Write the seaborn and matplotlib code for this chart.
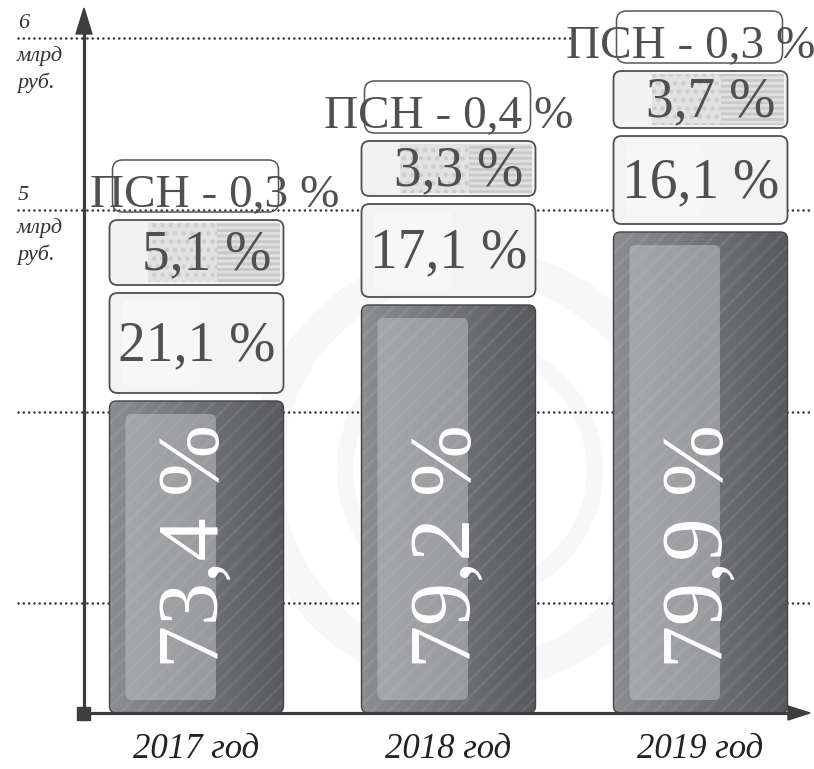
import numpy as np
import matplotlib
matplotlib.use("Agg")
import matplotlib.pyplot as plt
import seaborn as sns
from matplotlib.patches import FancyBboxPatch, Polygon, Rectangle, Ellipse
from matplotlib.colors import LinearSegmentedColormap

# ---------------- data ----------------
years = ["2017 год", "2018 год", "2019 год"]
main_share = [73.4, 79.2, 79.9]
mid_share = [21.1, 17.1, 16.1]
small_share = [5.1, 3.3, 3.7]
psn_share = [0.3, 0.4, 0.3]
# visual heights (chart units above the baseline)
bar_height = [312, 408, 481]
mid_height = [100, 93, 88]
small_height = [65, 55, 57]
grid_levels = [675, 503, 301, 110]
grid_labels = {675: "6", 503: "5"}
unit_lines = ["млрд", "руб."]


def fmt(v):
    return f"{v:.1f}".replace(".", ",") + " %"


sns.set_theme(style="white")
plt.rcParams["font.family"] = ["Liberation Serif", "DejaVu Serif"]
plt.rcParams["hatch.linewidth"] = 2.0

W, H = 814, 769
fig = plt.figure(figsize=(W / 100, H / 100), dpi=100)
ax = fig.add_axes([0, 0, 1, 1])
XU = 252.0   # pixels per category step
X0 = 196.5   # pixel of first category centre
BASE = 713   # pixel row of baseline


def px(x):
    return (x - X0) / XU


def setlims():
    ax.set_xlim(-X0 / XU, (W - X0) / XU)
    ax.set_ylim(BASE - H, BASE)


def rbox(x, y, w, h, r, **kw):
    return FancyBboxPatch((x, y), w, h,
                          boxstyle=f"round,pad=0,rounding_size={r / XU}",
                          mutation_aspect=XU, **kw)


# ---------------- main bars via seaborn ----------------
sns.barplot(x=years, y=bar_height, ax=ax, width=174 / XU, color="#6a6a6d",
            saturation=1, zorder=3)
bars = [(p.get_x(), p.get_width(), p.get_height()) for p in ax.patches]
for p in list(ax.patches):
    p.remove()

# very faint watermark (coin-like rings)
for (cx, cy, r, lw) in [(470, 470, 205, 24), (470, 470, 125, 12),
                        (470, 470, 60, 8)]:
    ax.add_patch(Ellipse((px(cx), BASE - cy), 2 * r / XU, 2 * r,
                         fill=False, edgecolor="#f7f7f7", lw=lw, zorder=0))

# dotted guides
grid_end = {675: 572}
for lvl in grid_levels:
    ax.plot([px(18), px(grid_end.get(lvl, 812))], [lvl, lvl],
            ls=(0, (0.01, 2.0)), lw=1.9, color="#3a3a3a",
            dash_capstyle="round", zorder=1)
for lvl, lab in grid_labels.items():
    ax.text(px(18), lvl + 5, lab, fontsize=16, style="italic",
            color="#333333", ha="left", va="bottom", zorder=2)
    for k, u in enumerate(unit_lines):
        ax.text(px(17), lvl - 18 - 27 * k, u, fontsize=16, style="italic",
                color="#333333", ha="left", va="center", zorder=2)

cmap = LinearSegmentedColormap.from_list("g", ["#8c8d90", "#737477", "#58595d"])
grad = np.linspace(0, 1, 256).reshape(1, -1)

for i, (x, w, h) in enumerate(bars):
    # main bar
    body = rbox(x, 0, w, h, 7, facecolor="none", edgecolor="#444446",
                lw=1.0, zorder=4)
    im = ax.imshow(grad, extent=[x, x + w, 0, h], cmap=cmap, aspect="auto",
                   zorder=3, interpolation="bilinear")
    clip = rbox(x, 0, w, h, 7, facecolor="none", edgecolor="none")
    ax.add_patch(clip)
    im.set_clip_path(clip)
    hatch = rbox(x, 0, w, h, 7, facecolor="none",
                 edgecolor=(1, 1, 1, 0.08), lw=0, hatch="//", zorder=3.2)
    ax.add_patch(hatch)
    ax.add_patch(body)
    inner = rbox(x + 16 / XU, 13, 0.52 * w, h - 26, 6,
                 facecolor="#c4c5c7", alpha=0.5, edgecolor="none", zorder=3.5)
    ax.add_patch(inner)
    ax.text(x + w / 2, 45, fmt(main_share[i]), rotation=90, ha="center",
            va="bottom", color="white", fontsize=62, zorder=6)

    # mid box
    b0 = h + 8
    ax.add_patch(rbox(x, b0, w, mid_height[i], 8, facecolor="#f3f3f3",
                      edgecolor="#4f4f4f", lw=1.3, zorder=4))
    ax.add_patch(rbox(x + 12 / XU, b0 + 8, 0.45 * w, mid_height[i] - 16, 6,
                      facecolor="#fafafa", alpha=0.6, edgecolor="none",
                      zorder=4.1))
    ax.text(x + w / 2, b0 + mid_height[i] / 2 - 3, fmt(mid_share[i]),
            ha="center", va="center", fontsize=40, color="#505050", zorder=6)

    # small box
    s0 = b0 + mid_height[i] + 8
    sh = small_height[i]
    ax.add_patch(rbox(x, s0, w, sh, 8, facecolor="#f2f2f2",
                      edgecolor="none", zorder=4))
    ax.add_patch(Rectangle((x + 0.22 * w, s0 + 3), 0.4 * w, sh - 6,
                           facecolor="#e2e2e2", edgecolor="#cdcdcd", lw=0,
                           hatch="..", zorder=4.1))
    ax.add_patch(Rectangle((x + 0.62 * w, s0 + 3), 0.36 * w, sh - 6,
                           facecolor="#e0e0e0", edgecolor="#c9c9c9", lw=0,
                           hatch="---", zorder=4.1))
    ax.add_patch(rbox(x, s0, w, sh, 8, facecolor="none",
                      edgecolor="#4f4f4f", lw=1.3, zorder=4.2))
    ax.text(x + w / 2 + 10 / XU, s0 + sh / 2 - 3, fmt(small_share[i]),
            ha="center", va="center", fontsize=40, color="#505050", zorder=6)

    # ПСН label with bracket
    p0 = s0 + sh + 8
    psn_dx = [18, 0, -10][i]
    ax.add_patch(rbox(x + 3 / XU, p0, w - 8 / XU, 52, 10, facecolor="none",
                      edgecolor="#555555", lw=1.1, zorder=4))
    ax.text(x + w / 2 + psn_dx / XU, p0 + 5, f"ПСН - {fmt(psn_share[i])}",
            ha="center", va="baseline", fontsize=34, color="#505050",
            zorder=6)

# axes with arrows
AC = "#3d3d3f"
ax.plot([px(84), px(84)], [0, BASE - 28], color=AC, lw=2.3, zorder=7,
        solid_capstyle="butt")
ax.add_patch(Polygon([(px(84), BASE - 8), (px(76), BASE - 34),
                      (px(92), BASE - 34)], closed=True, color=AC, zorder=7))
ax.plot([px(80), px(792)], [0, 0], color=AC, lw=2.3, zorder=7,
        solid_capstyle="butt")
ax.add_patch(Polygon([(px(810), 0), (px(788), 7), (px(788), -7)],
                     closed=True, color=AC, zorder=7))
ax.add_patch(Rectangle((px(77), -7), 13 / XU, 13, color=AC, zorder=7))

# category labels
for i, (x, w, h) in enumerate(bars):
    ax.text(x + w / 2, -37, years[i], ha="center", va="center",
            fontsize=25, style="italic", color="#222222", zorder=6)

setlims()
ax.axis("off")
fig.savefig("out.png", dpi=100)
